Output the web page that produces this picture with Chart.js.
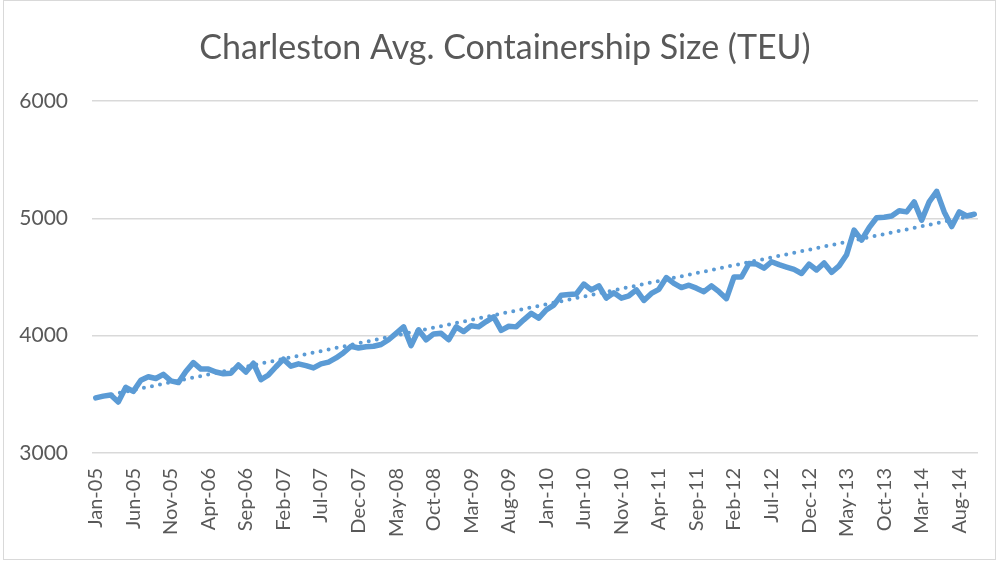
<!DOCTYPE html>
<html lang="en">
<head>
  <meta charset="UTF-8">
  <title>Charleston Avg. Containership Size (TEU)</title>
  <style>
    html, body {
      margin: 0;
      padding: 0;
      background: #ffffff;
    }
    .chart-container {
      width: 998px;
      height: 561px;
    }
  </style>
</head>
<body>
  <div class="chart-container">
    <canvas id="sizeChart" width="998" height="561"></canvas>
  </div>

  <script src="https://cdn.jsdelivr.net/npm/chart.js"></script>
  <script>
    // Monthly average vessel size, Jan-05 through Oct-14
    const monthNames = ['Jan', 'Feb', 'Mar', 'Apr', 'May', 'Jun', 'Jul', 'Aug', 'Sep', 'Oct', 'Nov', 'Dec'];
    const firstYear = 5;
    const monthCount = 118;

    const avgTeu = [
      3470, 3485, 3495, 3435, 3560, 3525, 3620, 3650, 3635, 3670, 3615, 3600,
      3695, 3770, 3715, 3715, 3690, 3675, 3680, 3750, 3690, 3765, 3625, 3665,
      3735, 3800, 3740, 3760, 3745, 3725, 3760, 3775, 3810, 3855, 3910, 3895,
      3905, 3910, 3925, 3965, 4020, 4075, 3915, 4050, 3965, 4015, 4020, 3965,
      4075, 4035, 4085, 4075, 4120, 4160, 4045, 4080, 4075, 4135, 4190, 4150,
      4220, 4260, 4345, 4350, 4355, 4440, 4390, 4425, 4320, 4365, 4320, 4340,
      4390, 4300, 4360, 4395, 4495, 4445, 4410, 4430, 4405, 4375, 4425, 4375,
      4315, 4500, 4500, 4615, 4610, 4575, 4630, 4605, 4585, 4565, 4530, 4610,
      4560, 4620, 4540, 4595, 4690, 4900, 4815, 4920, 5005, 5010, 5020, 5065,
      5055, 5140, 4985, 5140, 5230, 5055, 4930, 5055, 5020, 5035
    ];

    // linear trendline, value at the first and last month
    const trendEnds = [3470, 5025];

    const yTicks = [3000, 4000, 5000, 6000];
    const labelEvery = 5;
    const chartTitle = 'Charleston Avg. Containership Size (TEU)';

    // category labels like "Jan-05"
    const months = [];
    for (let i = 0; i < monthCount; i++) {
      const yy = firstYear + Math.floor(i / 12);
      months.push(monthNames[i % 12] + '-' + String(yy).padStart(2, '0'));
    }

    const trendPoints = [
      { x: months[0], y: trendEnds[0] },
      { x: months[monthCount - 1], y: trendEnds[1] }
    ];

    const textColor = '#595959';
    const gridColor = '#d9d9d9';
    const lineColor = '#5b9bd5';
    const fontFamily = 'Lato';

    // title text and thin frame around the whole chart
    const framePlugin = {
      id: 'frame',
      afterDraw(chart) {
        const ctx = chart.ctx;
        ctx.save();
        ctx.strokeStyle = gridColor;
        ctx.lineWidth = 1;
        ctx.strokeRect(3.5, 0.5, chart.width - 6, chart.height - 2);
        ctx.fillStyle = textColor;
        ctx.font = '34px ' + fontFamily;
        ctx.textAlign = 'center';
        ctx.textBaseline = 'middle';
        ctx.fillText(chartTitle, 505, 48);
        ctx.restore();
      }
    };

    const ctx = document.getElementById('sizeChart').getContext('2d');
    new Chart(ctx, {
      type: 'line',
      data: {
        labels: months,
        datasets: [
          {
            label: 'Avg. TEU',
            data: avgTeu,
            borderColor: lineColor,
            borderWidth: 5.5,
            pointRadius: 0,
            tension: 0,
            borderJoinStyle: 'round',
            borderCapStyle: 'round',
            fill: false
          },
          {
            label: 'Linear trend',
            data: trendPoints,
            borderColor: lineColor,
            borderWidth: 4,
            borderDash: [0, 8.2],
            borderCapStyle: 'round',
            pointRadius: 0,
            fill: false
          }
        ]
      },
      options: {
        responsive: false,
        animation: false,
        layout: {
          padding: { left: 0, right: 20, top: 101, bottom: 0 }
        },
        plugins: {
          legend: { display: false },
          tooltip: { enabled: false },
          title: { display: false }
        },
        scales: {
          x: {
            offset: true,
            grid: { display: false, drawTicks: false },
            border: { display: false },
            afterFit(scale) {
              scale.height = 108;
              scale.paddingLeft = 0;
              scale.paddingRight = 0;
            },
            ticks: {
              autoSkip: false,
              minRotation: 90,
              maxRotation: 90,
              padding: 15,
              color: textColor,
              font: { family: fontFamily, size: 20 },
              callback(value, index) {
                return index % labelEvery === 0 ? months[index] : '';
              }
            }
          },
          y: {
            min: yTicks[0],
            max: yTicks[yTicks.length - 1],
            afterFit(scale) {
              scale.width = 92;
              scale.paddingTop = 0;
              scale.paddingBottom = 0;
            },
            afterBuildTicks(scale) {
              scale.ticks = yTicks.map(v => ({ value: v }));
            },
            grid: { color: gridColor, lineWidth: 1.5, drawTicks: false },
            border: { display: false },
            ticks: {
              padding: 24,
              color: textColor,
              font: { family: fontFamily, size: 21 },
              callback: value => String(value)
            }
          }
        }
      },
      plugins: [framePlugin]
    });
  </script>
</body>
</html>
